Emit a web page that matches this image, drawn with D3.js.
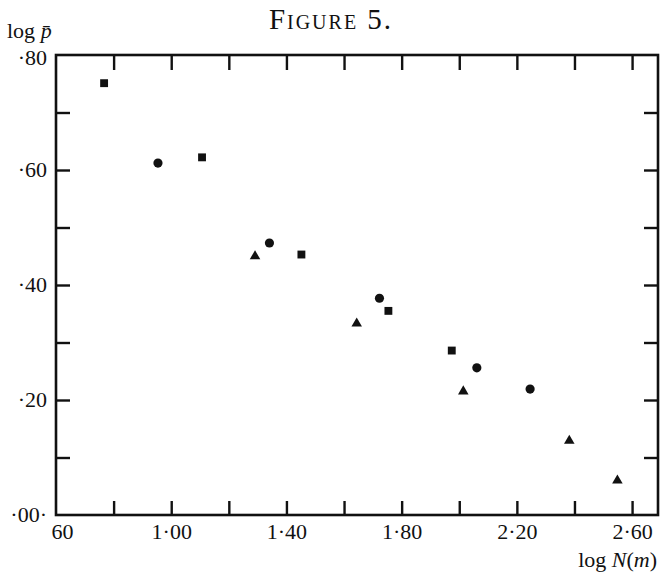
<!DOCTYPE html>
<html>
<head>
<meta charset="utf-8">
<script src="https://cdn.jsdelivr.net/npm/d3@7"></script>
<style>
  body { margin: 0; background: #fff; }
  svg text { font-family: "Liberation Serif", "DejaVu Serif", serif; fill: #111; }
</style>
</head>
<body>
<svg id="chart" width="661" height="575"></svg>
<script>
// data (log N(m) vs log p-bar)
var squaresX = [0.767, 1.107, 1.452, 1.754, 1.974];
var squaresY = [0.751, 0.622, 0.453, 0.355, 0.286];
var circlesX = [0.954, 1.341, 1.723, 2.061, 2.246];
var circlesY = [0.612, 0.473, 0.377, 0.256, 0.219];
var trianglesX = [1.291, 1.644, 2.014, 2.382, 2.549];
var trianglesY = [0.450, 0.333, 0.215, 0.129, 0.060];

var xTicks = [0.8, 1.0, 1.2, 1.4, 1.6, 1.8, 2.0, 2.2, 2.4, 2.6];
var xLabelVals = [0.6, 1.0, 1.4, 1.8, 2.2, 2.6];
var xLabels = ["60", "1·00", "1·40", "1·80", "2·20", "2·60"];
var yTicks = [0.1, 0.2, 0.3, 0.4, 0.5, 0.6, 0.7];
var yLabelVals = [0.8, 0.6, 0.4, 0.2, 0.0];
var yLabels = ["·80", "·60", "·40", "·20", "·00·"];

var svg = d3.select("#chart");
var pLeft = 56, pRight = 658, pTop = 55, pBottom = 515;

var x = d3.scaleLinear().domain([0.6, 2.69]).range([pLeft, pRight]);
var y = d3.scaleLinear().domain([0, 0.8]).range([pBottom, pTop]);

// inner ticks on all four sides
function tickAxis(axis, tr) {
  var g = svg.append("g").attr("transform", tr).call(axis);
  g.select(".domain").remove();
  g.selectAll("line").attr("stroke", "#111").attr("stroke-width", 2.4);
  g.selectAll("text").remove();
}
tickAxis(d3.axisBottom(x).tickValues(xTicks).tickSizeInner(-14).tickSizeOuter(0), "translate(0," + pBottom + ")");
tickAxis(d3.axisTop(x).tickValues(xTicks).tickSizeInner(-15).tickSizeOuter(0), "translate(0," + pTop + ")");
tickAxis(d3.axisLeft(y).tickValues(yTicks).tickSizeInner(-14).tickSizeOuter(0), "translate(" + pLeft + ",0)");
tickAxis(d3.axisRight(y).tickValues(yTicks).tickSizeInner(-14).tickSizeOuter(0), "translate(" + pRight + ",0)");

// frame
svg.append("rect")
  .attr("x", pLeft).attr("y", pTop)
  .attr("width", pRight - pLeft).attr("height", pBottom - pTop)
  .attr("fill", "none").attr("stroke", "#111").attr("stroke-width", 2.6);

// tick labels
var xl = svg.append("g").attr("transform", "translate(0," + pBottom + ")")
  .call(d3.axisBottom(x).tickValues(xLabelVals).tickSize(0).tickPadding(8)
    .tickFormat(function(d, i) { return xLabels[i]; }));
xl.select(".domain").remove();
xl.selectAll("text").attr("font-size", 22).attr("font-family", "Liberation Serif").attr("fill", "#111")
  .attr("dx", function(d, i) { return i == 0 ? 6 : 0; });

var yl = svg.append("g").attr("transform", "translate(" + pLeft + ",0)")
  .call(d3.axisLeft(y).tickValues(yLabelVals).tickSize(0).tickPadding(9)
    .tickFormat(function(d, i) { return yLabels[i]; }));
yl.select(".domain").remove();
yl.selectAll("text").attr("font-size", 22).attr("font-family", "Liberation Serif").attr("fill", "#111")
  .attr("dy", function(d, i) { return i == 0 ? "0.45em" : "0.3em"; });

// points
function plot(xs, ys, type, size) {
  svg.append("g").selectAll("path")
    .data(xs.map(function(d, i) { return [d, ys[i]]; }))
    .enter().append("path")
    .attr("d", d3.symbol().type(type).size(size))
    .attr("transform", function(d) { return "translate(" + x(d[0]) + "," + y(d[1]) + ")"; })
    .attr("fill", "#111");
}
plot(squaresX, squaresY, d3.symbolSquare, 62);
plot(circlesX, circlesY, d3.symbolCircle, 66);
plot(trianglesX, trianglesY, d3.symbolTriangle, 48);

// title and axis names
svg.append("text").attr("x", 331).attr("y", 29).attr("text-anchor", "middle")
  .attr("font-size", 29).style("font-variant", "small-caps").style("letter-spacing", "2px")
  .text("Figure 5.");

var yt = svg.append("text").attr("x", 7).attr("y", 38).attr("font-size", 22);
yt.append("tspan").text("log ");
yt.append("tspan").attr("font-style", "italic").text("p\u0304");

var xt = svg.append("text").attr("x", 657).attr("y", 567).attr("text-anchor", "end").attr("font-size", 22);
xt.append("tspan").text("log ");
xt.append("tspan").attr("font-style", "italic").text("N");
xt.append("tspan").text("(");
xt.append("tspan").attr("font-style", "italic").text("m");
xt.append("tspan").text(")");
</script>
</body>
</html>
